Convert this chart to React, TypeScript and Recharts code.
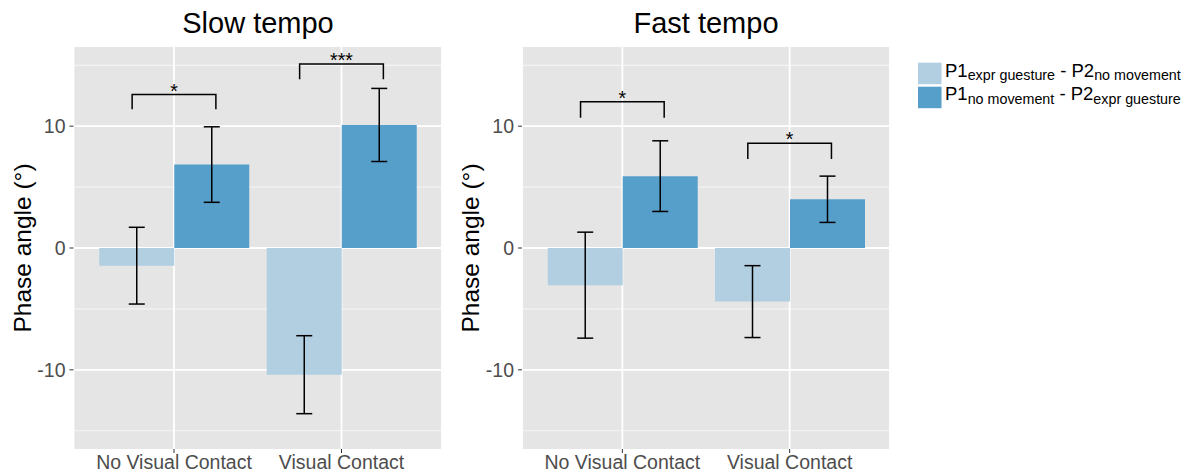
import React from "react";
import {
  ComposedChart,
  Bar,
  Line,
  XAxis,
  YAxis,
  CartesianGrid,
  ErrorBar,
  ReferenceDot,
} from "recharts";

// categories on the x axis (same in both panels)
const categories = ["No Visual Contact", "Visual Contact"];

// slow tempo: means and standard errors
const slowExprFirst = [-1.45, -10.4];
const slowExprFirstSe = [3.15, 3.2];
const slowExprSecond = [6.85, 10.1];
const slowExprSecondSe = [3.1, 3.0];

// fast tempo
const fastExprFirst = [-3.05, -4.4];
const fastExprFirstSe = [4.35, 2.95];
const fastExprSecond = [5.9, 4.0];
const fastExprSecondSe = [2.9, 1.9];

// significance brackets (one per category)
const slowSigTop = [12.6, 15.1];
const slowSigLeg = [11.4, 13.85];
const slowSigMark = ["*", "***"];
const fastSigTop = [12.0, 8.6];
const fastSigLeg = [10.7, 7.3];
const fastSigMark = ["*", "*"];

const yTicks = [-10, 0, 10];
const yMinor = [-15, -5, 5, 15];

const FONT = "'Liberation Sans', Arial, Helvetica, sans-serif";
const LIGHT = "#B2CEE1";
const DARK = "#579FCB";

const buildRows = (a: number[], aSe: number[], b: number[], bSe: number[]) =>
  categories.map((name, i) => ({
    name,
    first: a[i],
    firstSe: aSe[i],
    second: b[i],
    secondSe: bSe[i],
  }));

// bracket drawn on a hidden numeric x axis: category i sits at i + 1
const bracketPoints = (i: number, top: number, leg: number) => {
  const c = i + 1;
  return [
    { x: c - 0.25, y: leg },
    { x: c - 0.25, y: top },
    { x: c + 0.25, y: top },
    { x: c + 0.25, y: leg },
  ];
};

const StarLabel = (props: any) => {
  const vb = props.viewBox || {};
  return (
    <text
      x={(vb.x || 0) + (vb.width || 0) / 2}
      y={(vb.y || 0) + 3}
      textAnchor="middle"
      fontSize={19.5}
      fill="#000"
      fontFamily={FONT}
    >
      {props.value}
    </text>
  );
};

type PanelProps = {
  rows: any[];
  sigTop: number[];
  sigLeg: number[];
  sigMark: string[];
  left: number;
  width: number;
  yAxisWidth: number;
  labelOffset: number;
};

const Panel = ({ rows, sigTop, sigLeg, sigMark, left, width, yAxisWidth, labelOffset }: PanelProps) => {
  const plotW = width - yAxisWidth - 8;
  const pad = plotW / 22; // ggplot-like 0.6 expansion on a discrete axis
  return (
    <div style={{ position: "absolute", left, top: 0 }}>
      <ComposedChart
        width={width}
        height={474}
        data={rows}
        margin={{ top: 47, right: 8, bottom: 0, left: 0 }}
        barGap={0}
      >
        <CartesianGrid
          fill="#E5E5E5"
          stroke="#F7F7F7"
          strokeWidth={1}
          vertical={false}
          horizontalValues={yMinor}
        />
        <CartesianGrid stroke="#FFFFFF" strokeWidth={1.8} horizontalValues={yTicks} />
        <XAxis
          dataKey="name"
          interval={0}
          padding={{ left: pad, right: pad }}
          axisLine={false}
          tickSize={4}
          tickMargin={2}
          height={25}
          tickLine={{ stroke: "#333333" }}
          tick={{ fill: "#4D4D4D", fontSize: 19.5 }}
        />
        <XAxis xAxisId="b" type="number" dataKey="x" domain={[0.4, 2.6]} allowDataOverflow hide />
        <YAxis
          domain={[-16.5, 16.5]}
          ticks={yTicks}
          allowDataOverflow
          width={yAxisWidth}
          axisLine={false}
          tickSize={4}
          tickMargin={4}
          tickLine={{ stroke: "#333333" }}
          tick={{ fill: "#4D4D4D", fontSize: 19.5 }}
          label={{
            value: "Phase angle (°)",
            angle: -90,
            position: "insideLeft",
            offset: labelOffset,
            style: { textAnchor: "middle", fontSize: 24.5, fill: "#000" },
          }}
        />
        <Bar dataKey="first" fill={LIGHT} barSize={75} isAnimationActive={false}>
          <ErrorBar dataKey="firstSe" width={8} stroke="#000" strokeWidth={1.5} direction="y" />
        </Bar>
        <Bar dataKey="second" fill={DARK} barSize={75} isAnimationActive={false}>
          <ErrorBar dataKey="secondSe" width={8} stroke="#000" strokeWidth={1.5} direction="y" />
        </Bar>
        {sigTop.map((top, i) => (
          <Line
            key={"br" + i}
            xAxisId="b"
            data={bracketPoints(i, top, sigLeg[i])}
            dataKey="y"
            stroke="#000"
            strokeWidth={1.5}
            dot={false}
            activeDot={false}
            legendType="none"
            isAnimationActive={false}
          />
        ))}
        {sigTop.map((top, i) => (
          <ReferenceDot
            key={"st" + i}
            xAxisId="b"
            x={i + 1}
            y={top}
            r={0}
            fill="none"
            stroke="none"
            label={{ value: sigMark[i], content: StarLabel }}
          />
        ))}
      </ComposedChart>
    </div>
  );
};

export default function App() {
  const slowRows = buildRows(slowExprFirst, slowExprFirstSe, slowExprSecond, slowExprSecondSe);
  const fastRows = buildRows(fastExprFirst, fastExprFirstSe, fastExprSecond, fastExprSecondSe);
  return (
    <div
      style={{
        position: "absolute",
        left: 0,
        top: 0,
        width: 1191,
        height: 474,
        background: "#fff",
        fontFamily: FONT,
        overflow: "hidden",
      }}
    >
      <svg width={1191} height={474} style={{ position: "absolute", left: 0, top: 0 }}>
        <text x={258} y={33} textAnchor="middle" fontSize={29} fill="#000">
          Slow tempo
        </text>
        <text x={706} y={33} textAnchor="middle" fontSize={29} fill="#000">
          Fast tempo
        </text>
        <rect x={918} y={62.7} width={23.5} height={21.5} fill={LIGHT} />
        <rect x={918} y={86.7} width={23.5} height={21.5} fill={DARK} />
        <text x={945} y={76.5} fontSize={18.5} fill="#000">
          P1<tspan dy={3.5} fontSize={14.3}>expr guesture</tspan>
          <tspan dy={-3.5}> - P2</tspan>
          <tspan dy={3.5} fontSize={14.3}>no movement</tspan>
        </text>
        <text x={945} y={100} fontSize={18.5} fill="#000">
          P1<tspan dy={3.5} fontSize={14.3}>no movement</tspan>
          <tspan dy={-3.5}> - P2</tspan>
          <tspan dy={3.5} fontSize={14.3}>expr guesture</tspan>
        </text>
      </svg>
      <Panel
        rows={slowRows}
        sigTop={slowSigTop}
        sigLeg={slowSigLeg}
        sigMark={slowSigMark}
        left={0}
        width={450}
        yAxisWidth={73.5}
        labelOffset={22}
      />
      <Panel
        rows={fastRows}
        sigTop={fastSigTop}
        sigLeg={fastSigLeg}
        sigMark={fastSigMark}
        left={450}
        width={448}
        yAxisWidth={72}
        labelOffset={20.5}
      />
    </div>
  );
}
